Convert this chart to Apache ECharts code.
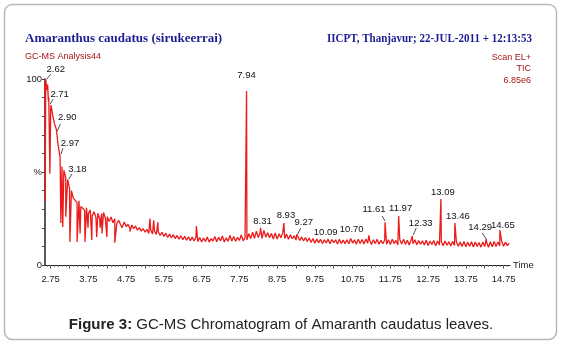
<!DOCTYPE html>
<html><head><meta charset="utf-8">
<script src="https://cdn.jsdelivr.net/npm/echarts@6/dist/echarts.min.js"></script>
<style>html,body{margin:0;padding:0;background:#fff}#c{width:562px;height:343px}</style>
</head><body><div id="c"></div>
<script>
// ---------- texts ----------
const chartTitle = 'Amaranthus caudatus (sirukeerrai)';
const runInfo = 'IICPT, Thanjavur; 22-JUL-2011 + 12:13:53';
const analysisName = 'GC-MS Analysis44';
const scanInfo = ['Scan EL+', 'TIC', '6.85e6'];
const captionBold = 'Figure 3:';
const captionText = ' GC-MS Chromatogram of Amaranth caudatus leaves.';
const xAxisName = 'Time';

// ---------- axes ----------
const xTickLabels = [2.75, 3.75, 4.75, 5.75, 6.75, 7.75, 8.75, 9.75, 10.75, 11.75, 12.75, 13.75, 14.75];
const yTickLabels = { 0: '0', 50: '%', 100: '100' };
const timeMin = 2.60, timeMax = 14.92;

// ---------- TIC trace (relative %), sampled every 0.05 min from 2.60 ----------
const ticStart = 2.60, ticStep = 0.05;
const ticValues = [
  98, 94, 90, 84, 81, 76, 73, 64, 58, 53, 51, 47, 46, 41, 40, 36, 37, 33.5, 34.5, 31.5,
  32.2, 29.4, 30.8, 27.6, 29.5, 26.4, 28.6, 25.6, 27.8, 24.8, 27.6, 28.2, 25.1, 25.9, 23.4, 25.8, 22.7, 24.8, 22.0, 24.1,
  23.2, 21.0, 23.1, 20.6, 21.9, 19.8, 21.5, 19.5, 21.0, 18.7, 20.1, 18.2, 19.6, 17.6, 19.2, 16.9, 19.0, 16.7, 18.3, 16.5,
  18.0, 15.9, 17.6, 15.4, 17.1, 14.8, 16.6, 14.5, 16.3, 14.2, 15.9, 13.9, 15.7, 13.6, 15.4, 13.3, 15.2, 13.1, 15.0, 12.9,
  15.0, 12.6, 14.8, 12.4, 14.5, 12.7, 15.1, 12.3, 14.2, 12.9, 15.3, 12.5, 14.9, 13.0, 15.6, 12.4, 14.6, 12.8, 15.9, 12.9,
  15.3, 12.7, 14.9, 13.2, 16.1, 13.0, 14.6, 13.5, 16.8, 14.2, 17.6, 14.4, 18.2, 14.8, 17.4, 14.3, 18.6, 15.0, 17.3, 14.6,
  16.9, 14.0, 17.2, 13.9, 16.8, 14.6, 17.4, 14.2, 16.6, 13.8, 16.3, 14.1, 15.7, 13.4, 15.9, 13.2, 15.1, 12.9, 14.8, 12.6,
  14.5, 12.1, 14.2, 11.7, 13.9, 12.0, 13.8, 11.5, 13.6, 11.8, 13.9, 11.4, 13.7, 12.0, 13.5, 11.3, 13.8, 11.6, 13.4, 11.5,
  13.6, 11.4, 14.3, 11.8, 13.5, 11.2, 13.9, 11.6, 13.7, 11.3, 14.0, 11.7, 13.4, 11.0, 13.6, 11.5, 13.8, 11.2, 13.3, 11.4,
  13.4, 11.2, 13.6, 11.0, 13.9, 11.5, 13.2, 10.9, 13.7, 11.3, 13.8, 11.1, 13.3, 10.8, 13.5, 11.4, 13.6, 10.9, 13.1, 11.2,
  13.0, 10.7, 13.3, 10.5, 12.8, 11.0, 13.2, 10.4, 12.9, 10.8, 12.6, 10.3, 12.9, 10.6, 12.5, 10.2, 12.7, 10.5, 12.4, 10.1,
  12.3, 10.0, 12.6, 9.8, 12.2, 10.1, 12.5, 9.7, 12.4, 10.0, 12.1, 9.6, 12.3, 9.9, 12.2, 9.5, 12.5, 9.8, 12.6, 10.0,
  12.4, 10.2, 12.8, 10.1, 12.3, 10.4, 11.8
];

// ---------- sharp features (spikes and dips) ----------
const spikeTimes = [2.605, 2.62, 2.67, 2.69, 2.71, 2.73, 2.76, 2.90, 3.02, 3.07, 3.15, 3.26, 3.45, 3.53, 3.66, 3.74, 3.84, 3.97,
  4.06, 4.11, 4.24, 4.45, 4.64, 4.85, 5.38, 5.48, 5.59, 6.61,
  7.94, 8.31, 8.93, 9.27, 11.18, 11.61, 11.97, 12.33, 13.09, 13.46, 14.29, 14.65];
const spikeValues = [34, 100, 97, 88, 90, 49, 86, 74, 22.6, 20.4, 26, 12.4, 12.4, 17, 12.4, 20, 13.4, 15,
  20, 17, 15, 12, 20, 18, 25, 24, 23, 21,
  93.5, 20, 22.6, 16.5, 16, 23, 26.3, 15.6, 35.5, 22.6, 14, 18.8];

// ---------- annotated peaks ----------
const peakTimes = [2.62, 2.71, 2.90, 2.97, 3.18, 7.94, 8.31, 8.93, 9.27, 10.09, 10.70, 11.61, 11.97, 12.33, 13.09, 13.46, 14.29, 14.65];
const peakAnchor = [100, 86, 71.5, 59, 45.7, 93.5, 20, 22.6, 16.1, 13.5, 13.5, 23.1, 26.3, 15.6, 35.5, 22.6, 13.4, 18.8];

// label layout (pixel offsets from anchor; leader segment or null)
const peakLabelLayout = [
  { dx: 10, dy: -10, leader: [1, 0, 5, -5] },
  { dx: 10.5, dy: -11, leader: [1, -1, 4, -6] },
  { dx: 11, dy: -15, leader: [1, -1, 4, -8] },
  { dx: 11, dy: -12, leader: [2, -1, 4, -7] },
  { dx: 10.5, dy: -11, leader: [2, -1, 5, -6] },
  { dx: 0, dy: -16, leader: null },
  { dx: 2, dy: -6, leader: null },
  { dx: 2, dy: -8, leader: null },
  { dx: 7, dy: -13, leader: [1, -1, 4, -7] },
  { dx: -2, dy: -8, leader: null },
  { dx: 1, dy: -11, leader: null },
  { dx: -11, dy: -13, leader: [0, -1, -3, -6] },
  { dx: 2, dy: -8, leader: null },
  { dx: 8.5, dy: -13, leader: [1, -1, 4, -8] },
  { dx: 2, dy: -7, leader: null },
  { dx: 3, dy: -6.5, leader: null },
  { dx: -6, dy: -13, leader: [0, -1, -4, -7] },
  { dx: 3, dy: -5, leader: null }
];

// ---------- build ----------
const trace = ticValues.map((v, i) => [+(ticStart + i * ticStep).toFixed(3), v]);
spikeTimes.forEach((t, i) => trace.push([t, spikeValues[i]]));
trace.sort((a, b) => a[0] - b[0]);

const majorTicks = [], minorTicks = [];
for (let k = 0; k <= 122; k++) {
  const v = +(2.65 + k * 0.1).toFixed(2);
  if (v <= timeMax) minorTicks.push(v);
}
for (let k = 0; k <= 24; k++) {
  const v = +(2.75 + k * 0.5).toFixed(2);
  if (v <= timeMax) majorTicks.push(v);
}

const sans = '"Liberation Sans", Arial, sans-serif';
const serif = '"Liberation Serif", "Times New Roman", serif';
const red = '#a51616', navy = '#1c1c94';
const chart = echarts.init(document.getElementById('c'));
chart.setOption({
  animation: false,
  backgroundColor: '#fff',
  title: [
    { text: chartTitle, left: 25, top: 32, padding: 0,
      textStyle: { fontFamily: serif, fontWeight: 'bold', fontSize: 13, color: navy } },
    { text: analysisName, left: 25, top: 52, padding: 0,
      textStyle: { fontFamily: sans, fontWeight: 'normal', fontSize: 9, color: red } }
  ].concat(scanInfo.map((s, i) => ({
      text: s, right: 31, top: 53 + i * 11.5, padding: 0,
      textStyle: { fontFamily: sans, fontWeight: 'normal', fontSize: 9, color: red }
    }))).concat([
    { text: '{b|' + captionBold + '}{n|' + captionText + '}', left: 'center', top: 317, padding: 0,
      textStyle: { rich: {
        b: { fontFamily: sans, fontWeight: 'bold', fontSize: 15, color: '#222' },
        n: { fontFamily: sans, fontWeight: 'normal', fontSize: 15, color: '#222' } } } }
  ]),
  graphic: [
    { type: 'rect', shape: { x: 4.5, y: 4.5, width: 552, height: 335, r: 8 },
      style: { fill: 'none', stroke: '#b8b8b8', lineWidth: 1.5 }, z: -1 },
    { type: 'text', x: 532, y: 39, scaleX: 0.88,
      style: { text: runInfo, font: 'bold 12.5px ' + serif, fill: navy, align: 'right', verticalAlign: 'middle' } }
  ],
  grid: { left: 45, right: 52, top: 79, bottom: 78 },
  xAxis: [{
    type: 'value', min: timeMin, max: timeMax,
    name: xAxisName, nameLocation: 'end', nameGap: 3,
    nameTextStyle: { fontFamily: sans, fontSize: 9.5, color: '#222' },
    axisLine: { show: true, lineStyle: { color: '#222', width: 1.2 } },
    axisTick: { show: true, length: 3.5, customValues: majorTicks, lineStyle: { color: '#444', width: 1 } },
    axisLabel: { customValues: xTickLabels, formatter: v => v.toFixed(2), margin: 9,
      fontFamily: sans, fontSize: 9.5, color: '#222' },
    splitLine: { show: false }
  }, {
    type: 'value', min: timeMin, max: timeMax, position: 'bottom', gridIndex: 0,
    axisLine: { show: false },
    axisTick: { show: true, length: 2, customValues: minorTicks, lineStyle: { color: '#666', width: 0.8 } },
    axisLabel: { show: false },
    splitLine: { show: false }
  }],
  yAxis: {
    type: 'value', min: 0, max: 100, interval: 10,
    axisLine: { show: true, lineStyle: { color: '#222', width: 1.5 } },
    axisTick: { show: true, length: 3, lineStyle: { color: '#444' } },
    axisLabel: { formatter: v => (yTickLabels[v] !== undefined ? yTickLabels[v] : ''), margin: 3,
      fontFamily: sans, fontSize: 9.5, color: '#222' },
    splitLine: { show: false }
  },
  series: [{
    type: 'line', data: trace, showSymbol: false, sampling: null,
    lineStyle: { color: '#ec1a1a', width: 1.3 }, z: 2, silent: true
  }, {
    type: 'custom', coordinateSystem: 'cartesian2d', encode: { x: 0, y: 1 },
    data: peakTimes.map((t, i) => [t, peakAnchor[i], i]),
    clip: false, z: 10, silent: true,
    renderItem: (params, api) => {
      const i = api.value(2);
      const p = api.coord([api.value(0), api.value(1)]);
      const lay = peakLabelLayout[i];
      const children = [{
        type: 'text', x: p[0] + lay.dx, y: p[1] + lay.dy,
        style: { text: peakTimes[i].toFixed(2), font: '9.5px ' + sans, fill: '#111', align: 'center', verticalAlign: 'middle' }
      }];
      if (lay.leader) {
        const l = lay.leader;
        children.push({ type: 'line', shape: { x1: p[0] + l[0], y1: p[1] + l[1], x2: p[0] + l[2], y2: p[1] + l[3] },
          style: { stroke: '#222', lineWidth: 0.8 } });
      }
      return { type: 'group', children };
    }
  }]
});
</script>
</body></html>
